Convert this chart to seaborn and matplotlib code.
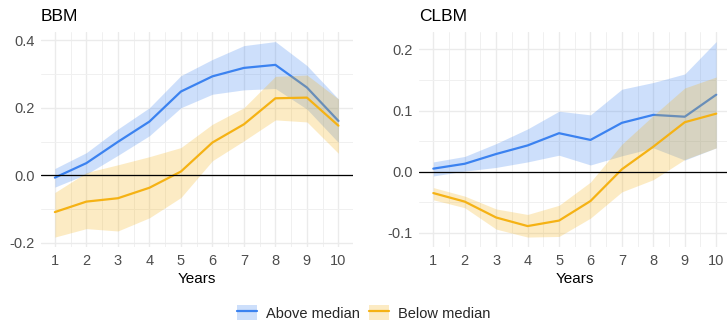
import numpy as np
import pandas as pd
import matplotlib.pyplot as plt
import seaborn as sns
from matplotlib.patches import Patch
from matplotlib.lines import Line2D
from matplotlib.ticker import MultipleLocator

years = list(range(1, 11))

# BBM panel
bbm_above = [-0.007, 0.036, 0.099, 0.159, 0.248, 0.293, 0.318, 0.327, 0.260, 0.161]
bbm_above_hi = [0.020, 0.067, 0.137, 0.200, 0.295, 0.343, 0.384, 0.396, 0.325, 0.226]
bbm_above_lo = [-0.035, 0.003, 0.059, 0.117, 0.200, 0.240, 0.253, 0.257, 0.196, 0.097]
bbm_below = [-0.109, -0.078, -0.068, -0.037, 0.011, 0.097, 0.151, 0.228, 0.230, 0.147]
bbm_below_hi = [-0.051, 0.008, 0.031, 0.055, 0.082, 0.151, 0.200, 0.293, 0.297, 0.226]
bbm_below_lo = [-0.183, -0.158, -0.165, -0.126, -0.066, 0.043, 0.102, 0.164, 0.158, 0.065]

# CLBM panel
clbm_above = [0.005, 0.013, 0.029, 0.043, 0.063, 0.052, 0.080, 0.093, 0.090, 0.126]
clbm_above_hi = [0.016, 0.025, 0.046, 0.070, 0.099, 0.093, 0.135, 0.146, 0.160, 0.213]
clbm_above_lo = [-0.007, 0.001, 0.007, 0.016, 0.027, 0.011, 0.026, 0.039, 0.019, 0.039]
clbm_below = [-0.035, -0.049, -0.075, -0.089, -0.080, -0.048, 0.004, 0.041, 0.081, 0.095]
clbm_below_hi = [-0.026, -0.040, -0.061, -0.070, -0.055, -0.017, 0.045, 0.092, 0.137, 0.155]
clbm_below_lo = [-0.046, -0.059, -0.094, -0.107, -0.106, -0.076, -0.033, -0.013, 0.020, 0.039]

groups = ["Above median", "Below median"]
colors = {"Above median": "#3B82F0", "Below median": "#F5B214"}

rows = []
for panel, series in [
    ("BBM", {"Above median": (bbm_above, bbm_above_lo, bbm_above_hi),
             "Below median": (bbm_below, bbm_below_lo, bbm_below_hi)}),
    ("CLBM", {"Above median": (clbm_above, clbm_above_lo, clbm_above_hi),
              "Below median": (clbm_below, clbm_below_lo, clbm_below_hi)}),
]:
    for g, (est, lo, hi) in series.items():
        for y, e, l, h in zip(years, est, lo, hi):
            rows.append(dict(panel=panel, group=g, year=y, est=e, lo=l, hi=h))
df = pd.DataFrame(rows)

sns.set_theme(style="white")
plt.rcParams["font.family"] = ["Liberation Sans", "DejaVu Sans"]

fig = plt.figure(figsize=(7.27, 3.21), dpi=100)
axes = [fig.add_axes([0.056, 0.231, 0.429, 0.670]),
        fig.add_axes([0.5766, 0.231, 0.428, 0.670])]

settings = {"BBM": (0.2, 0.1, (-0.212, 0.425)),
            "CLBM": (0.1, 0.05, (-0.123, 0.229))}

for ax, panel in zip(axes, ["BBM", "CLBM"]):
    sub = df[df.panel == panel]
    for i, g in enumerate(groups):
        d = sub[sub.group == g]
        ax.fill_between(d.year, d.lo, d.hi, color=colors[g], alpha=0.25,
                        linewidth=0, zorder=2 + 2 * i)
        sns.lineplot(data=d, x="year", y="est", color=colors[g], lw=1.6,
                     ax=ax, zorder=3 + 2 * i)
    ax.axhline(0, color="black", lw=0.9, zorder=6)

    major, minor, ylim = settings[panel]
    ax.set_xlim(0.55, 10.45)
    ax.set_ylim(*ylim)
    ax.set_xticks(years)
    ax.xaxis.set_minor_locator(MultipleLocator(0.5))
    ax.yaxis.set_major_locator(MultipleLocator(major))
    ax.yaxis.set_minor_locator(MultipleLocator(minor))
    ax.grid(which="major", color="#EBEBEB", lw=1.0, zorder=0)
    ax.grid(which="minor", color="#F0F0F0", lw=0.7, zorder=0)
    ax.set_axisbelow(True)
    for s in ax.spines.values():
        s.set_visible(False)
    ax.tick_params(axis="both", which="both", length=0, labelsize=10.5,
                   labelcolor="#4D4D4D")
    ax.tick_params(axis="x", pad=5)
    ax.tick_params(axis="y", pad=4.5)
    ax.yaxis.set_major_formatter(plt.FuncFormatter(lambda v, p: f"{v:.1f}"))
    ax.set_xlabel("Years", fontsize=11, color="black", labelpad=3)
    ax.set_ylabel("")
    ax.set_title(panel, loc="left", fontsize=12.5, pad=8, color="black")

handles = [(Patch(facecolor=colors[g], alpha=0.25, lw=0),
            Line2D([], [], color=colors[g], lw=1.6)) for g in groups]
fig.legend(handles, groups, loc="center", bbox_to_anchor=(0.5, 0.025),
           ncol=2, frameon=False, fontsize=10.5, handlelength=1.4,
           handleheight=1.2, handletextpad=0.6, columnspacing=0.6)

fig.savefig("out.png", dpi=100)
